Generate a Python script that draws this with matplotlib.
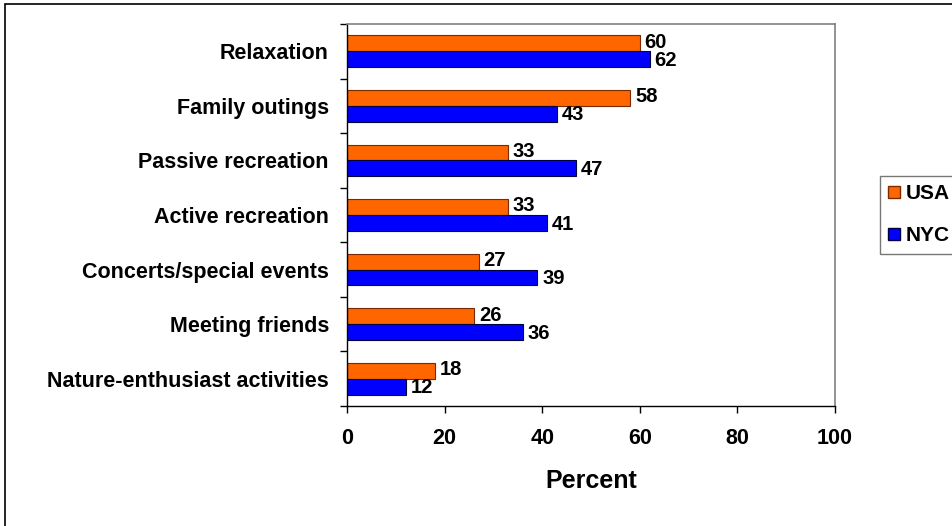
import matplotlib
matplotlib.use("Agg")
import matplotlib.pyplot as plt
from matplotlib.patches import Rectangle, Patch
import numpy as np

plt.rcParams['font.family'] = ['Liberation Sans', 'DejaVu Sans']
plt.rcParams['font.weight'] = 'bold'

categories = ["Relaxation", "Family outings", "Passive recreation", "Active recreation",
              "Concerts/special events", "Meeting friends", "Nature-enthusiast activities"]
usa = [60, 58, 33, 33, 27, 26, 18]
nyc = [62, 43, 47, 41, 39, 36, 12]
xticks = [0, 20, 40, 60, 80, 100]

W, H = 952, 526
fig = plt.figure(figsize=(W / 100, H / 100), dpi=100)

# plot area in pixel terms
left, right, top, bottom = 347, 835, 24, 406
ax = fig.add_axes([left / W, 1 - bottom / H, (right - left) / W, (bottom - top) / H])

FS = 15.5
VFS = 14.5
y = np.arange(len(categories))
bh = 0.29
ax.barh(y - bh / 2, usa, height=bh, color="#FF6600", edgecolor="#7a2a00", linewidth=0.8, label="USA")
ax.barh(y + bh / 2, nyc, height=bh, color="#0000FF", edgecolor="#000040", linewidth=0.8, label="NYC")

for i in range(len(categories)):
    ax.text(usa[i] + 1.0, y[i] - bh / 2 - 0.02, str(usa[i]), va="center", ha="left",
            fontsize=VFS, fontweight="bold")
    ax.text(nyc[i] + 1.0, y[i] + bh / 2 + 0.02, str(nyc[i]), va="center", ha="left",
            fontsize=VFS, fontweight="bold")

ax.set_xlim(0, 100)
ax.set_ylim(len(categories) - 0.5, -0.5)
ax.set_xticks(xticks)
ax.set_xticklabels([str(v) for v in xticks], fontsize=FS, fontweight="bold")
ax.set_yticks(y)
ax.set_yticklabels(categories, fontsize=FS, fontweight="bold")
ax.set_yticks(np.arange(len(categories) + 1) - 0.5, minor=True)
ax.tick_params(axis="y", which="major", length=0, pad=13)
ax.tick_params(axis="y", which="minor", length=5, width=1, direction="out")
ax.tick_params(axis="x", length=5, width=1, direction="out", pad=11)
ax.set_xlabel("Percent", fontsize=18, fontweight="bold", labelpad=14)

for s in ("top", "right"):
    ax.spines[s].set_color("#808080")
    ax.spines[s].set_linewidth(1.2)
for s in ("left", "bottom"):
    ax.spines[s].set_color("black")
    ax.spines[s].set_linewidth(1)

# outer chart border
fig.patches.append(Rectangle((5 / W, -0.1), 1.2, 1 - 4 / H + 0.1, transform=fig.transFigure,
                             fill=False, edgecolor="black", linewidth=1.2))

handles = [Patch(facecolor="#FF6600", edgecolor="#7a2a00", label="USA"),
           Patch(facecolor="#0000FF", edgecolor="#000040", label="NYC")]
leg = fig.legend(handles=handles, loc="upper left", bbox_to_anchor=(880 / W, 1 - 176 / H),
                 frameon=True, fancybox=False, edgecolor="#555555", fontsize=15,
                 handlelength=0.55, handleheight=0.55, handletextpad=0.3, borderpad=0.55,
                 labelspacing=1.1, borderaxespad=0)
leg.get_frame().set_linewidth(1)
# tighten padding inside the legend frame
leg._legend_box.pad = 6

fig.savefig("out.png", dpi=100)
